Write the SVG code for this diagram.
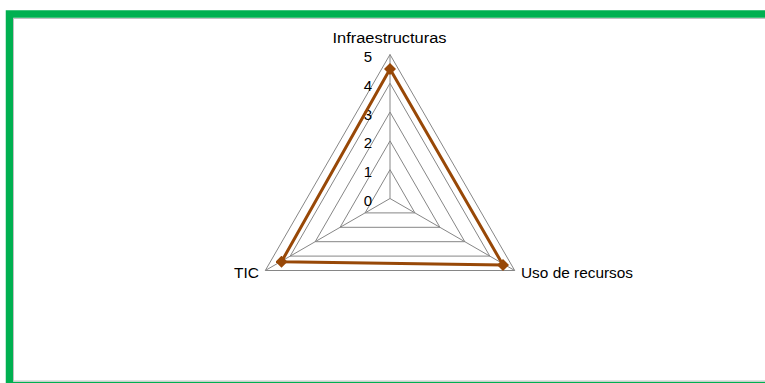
<svg xmlns="http://www.w3.org/2000/svg" width="765" height="383" viewBox="0 0 765 383">
<style>
.lbl{font-family:"Liberation Sans",Arial,sans-serif;font-size:15.5px;fill:#000}
.tick{font-family:"Liberation Sans",Arial,sans-serif;font-size:15px;fill:#000;text-anchor:end}
.ring{fill:none;stroke:#868686;stroke-width:1}
.axis{stroke:#868686;stroke-width:1}
</style>
<defs>
<marker id="dm" viewBox="-6 -6 12 12" markerWidth="12" markerHeight="12" markerUnits="userSpaceOnUse" refX="0" refY="0">
<path d="M0,-6 L6,0 L0,6 L-6,0 Z" fill="#984807"/>
</marker>
</defs>
<rect x="0" y="0" width="765" height="383" fill="#ffffff"/>
<rect x="9.5" y="14" width="800" height="371.5" fill="#ffffff" stroke="#00B050" stroke-width="7.5"/>
<rect x="13.5" y="18.5" width="800" height="362.5" fill="none" stroke="#BFBFBF" stroke-width="1"/>
<g id="grid">
<polygon class="ring" points="390,169.7 414.9,212.9 365.1,212.9"/>
<polygon class="ring" points="390,140.9 439.9,227.3 340.1,227.3"/>
<polygon class="ring" points="390,112.1 464.8,241.7 315.2,241.7"/>
<polygon class="ring" points="390,83.3 489.8,256.1 290.2,256.1"/>
<polygon class="ring" points="390,54.5 514.7,270.5 265.3,270.5"/>
</g>
<g id="connectors">
<line class="axis" x1="390" y1="198.5" x2="390" y2="54.5"/>
<line class="axis" x1="390" y1="198.5" x2="514.7" y2="270.5"/>
<line class="axis" x1="390" y1="198.5" x2="265.3" y2="270.5"/>
</g>
<g id="ticks">
<text class="tick" x="372" y="62">5</text>
<text class="tick" x="372" y="91">4</text>
<text class="tick" x="372" y="120">3</text>
<text class="tick" x="372" y="148">2</text>
<text class="tick" x="372" y="177">1</text>
<text class="tick" x="372" y="206">0</text>
</g>
<g id="series">
<polygon points="390,69 503,265 281.5,261.7" fill="none" stroke="#984807" stroke-width="3" stroke-linejoin="round" marker-start="url(#dm)" marker-mid="url(#dm)"/>
</g>
<g id="node-infra"><text class="lbl" x="389.5" y="43" text-anchor="middle" textLength="114" lengthAdjust="spacingAndGlyphs">Infraestructuras</text></g>
<g id="node-uso"><text class="lbl" x="521" y="278" textLength="112" lengthAdjust="spacingAndGlyphs">Uso de recursos</text></g>
<g id="node-tic"><text class="lbl" x="259" y="278" text-anchor="end">TIC</text></g>
</svg>
